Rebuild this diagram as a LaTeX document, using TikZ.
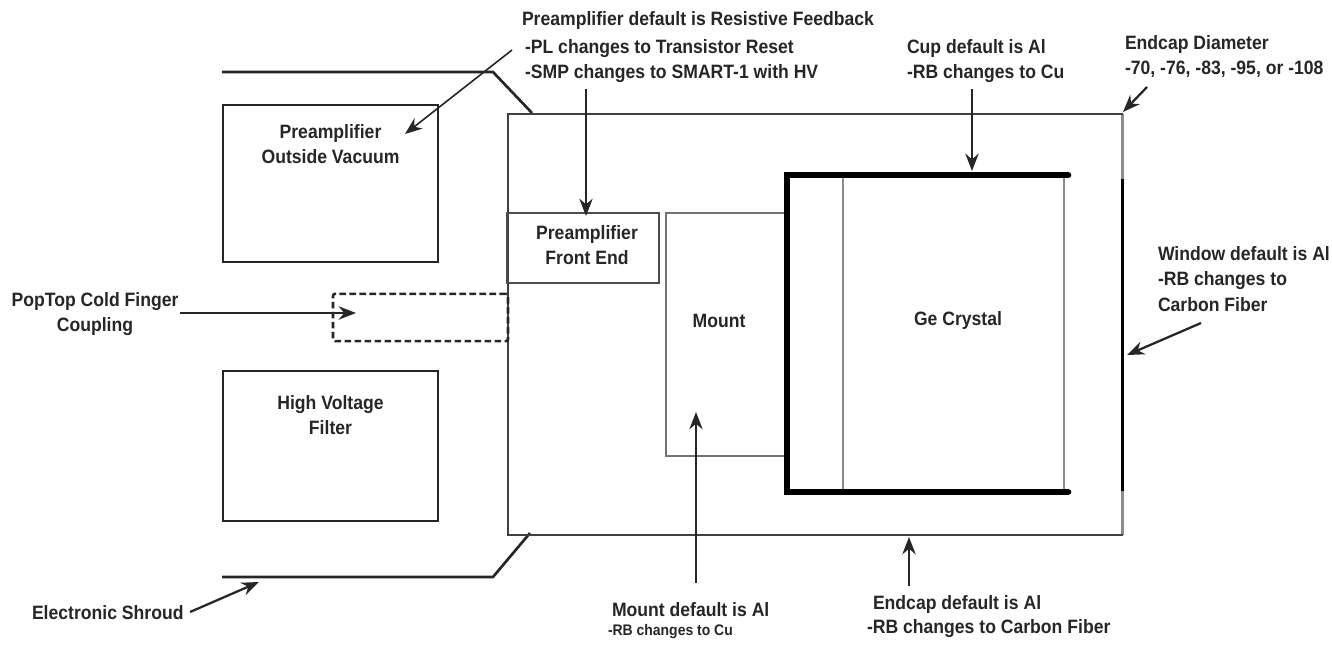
\documentclass[tikz,border=0pt]{standalone}
\usepackage{fontspec}
\setmainfont[FakeStretch=0.91,BoldFont={Liberation Sans Bold}]{Liberation Sans}
\usetikzlibrary{arrows.meta}
\tikzset{
  lab/.style={inner sep=0pt,outer sep=0pt,font=\fontsize{14.5pt}{19.2pt}\selectfont\bfseries,text=black!85,align=left},
  ctr/.style={lab,align=center},
  box/.style={draw=black!85,line width=1.9pt,rectangle,inner sep=0pt},
  thinbox/.style={draw=black!70,line width=1.5pt,rectangle,inner sep=0pt},
  arr/.style={draw=black!85,line width=1.7pt,-{Stealth[length=13pt,width=10pt]}},
  arrthin/.style={arr,line width=1.2pt},
  shroud/.style={draw=black!85,line width=2pt},
  cup/.style={draw=black,line width=5pt,line cap=round},
  gray/.style={draw=black!45,line width=2pt}
}
\begin{document}
\begin{tikzpicture}[x=0.75pt,y=-0.75pt]
\useasboundingbox (0,0) rectangle (1332,647);
% shroud
\coordinate (s1) at (222,72); \coordinate (s2) at (493,72); \coordinate (s3) at (532,113);
\coordinate (s4) at (222,577); \coordinate (s5) at (493,577); \coordinate (s6) at (530,533);
\draw[shroud] (s1) -- (s2) -- (s3);
\draw[shroud] (s4) -- (s5) -- (s6);
% boxes
\node[box,minimum width=161.25pt,minimum height=117.75pt] (pov) at (330.5,183.5) {};
\node[ctr,anchor=north] (povt) at (330.5,124) {Preamplifier\\Outside Vacuum};
\node[box,minimum width=161.25pt,minimum height=112.5pt] (hv) at (330.5,446) {};
\node[ctr,anchor=north] (hvt) at (330.5,395) {High Voltage\\Filter};
% endcap
\coordinate (ea) at (508,114); \coordinate (eb) at (1122.5,114); \coordinate (ec) at (1122.5,535); \coordinate (ed) at (508,535);
\coordinate (wa) at (1122.5,179); \coordinate (wb) at (1122.5,491);
\draw[gray] (eb) -- (wa);
\draw[gray] (wb) -- (ec);
\draw[draw=black!75,line width=1.4pt] (eb) -- (ea) -- (ed) -- (ec);
\draw[draw=black,line width=2.8pt] (wa) -- (wb);
% dashed coupling
\node[draw=black!85,line width=1.9pt,dash pattern=on 5pt off 2.5pt,rounded corners=1.5pt,minimum width=131.25pt,minimum height=35.5pt,inner sep=0pt] (pop) at (420.5,317.5) {};
% front end, mount
\node[thinbox,minimum width=114pt,minimum height=52.5pt] (fe) at (583,248) {};
\node[ctr] (fet) at (587,245) {Preamplifier\\Front End};
\coordinate (m1) at (785,213); \coordinate (m2) at (666,213); \coordinate (m3) at (666,456); \coordinate (m4) at (785,456);
\draw[draw=black!55,line width=1.5pt] (m1) -- (m2) -- (m3) -- (m4);
\node[lab] (mt) at (719,321) {Mount};
% crystal
\coordinate (g1) at (843,175); \coordinate (g2) at (843,492); \coordinate (g3) at (1064,175); \coordinate (g4) at (1064,492);
\draw[gray] (g1) -- (g2);
\draw[gray] (g3) -- (g4);
\node[lab] (gt) at (958,320) {Ge Crystal};
% cup
\coordinate (c1) at (1068,175); \coordinate (c2) at (787,175); \coordinate (c3) at (787,492); \coordinate (c4) at (1068,492);
\draw[cup] (c1) -- (c2) -- (c3) -- (c4);
% labels
\node[lab,anchor=west] (l1) at (522,20) {Preamplifier default is Resistive Feedback};
\node[lab,anchor=north west] (l2) at (525,39) {-PL changes to Transistor Reset\\-SMP changes to SMART-1 with HV};
\node[lab,anchor=north west] (l3) at (907,39) {Cup default is Al\\-RB changes to Cu};
\node[lab,anchor=north west] (l4) at (1125,35) {Endcap Diameter\\-70, -76, -83, -95, or -108};
\node[lab,anchor=north west] (l5) at (1158,246) {Window default is Al\\-RB changes to\\Carbon Fiber};
\node[ctr,anchor=north] (l6) at (95,292) {PopTop Cold Finger\\Coupling};
\node[lab,anchor=west] (l7) at (32,613) {Electronic Shroud};
\node[lab,anchor=west] (l8) at (612,610) {Mount default is Al};
\node[lab,anchor=west,font=\fontsize{11.5pt}{13pt}\selectfont\bfseries] (l9) at (608,632) {-RB changes to Cu};
\node[lab,anchor=west] (l10) at (873,604) {Endcap default is Al};
\node[lab,anchor=west] (l11) at (867,629) {-RB changes to Carbon Fiber};
% arrows
\coordinate (a1s) at (512,50); \coordinate (a1e) at (405,134);
\coordinate (a2s) at (586,89); \coordinate (a2e) at (586,216);
\coordinate (a3s) at (972,89); \coordinate (a3e) at (972,171);
\coordinate (a4s) at (1147,87); \coordinate (a4e) at (1123,112);
\coordinate (a5s) at (1201,323); \coordinate (a5e) at (1127,355);
\coordinate (a6s) at (909,586); \coordinate (a6e) at (909,537);
\coordinate (a7s) at (696,583); \coordinate (a7e) at (696,412);
\coordinate (a8s) at (180,313); \coordinate (a8e) at (356,313);
\coordinate (a9s) at (190,612); \coordinate (a9e) at (259,582);
\foreach \n in {1,2,7} \draw[arrthin] (a\n s) -- (a\n e);
\foreach \n in {3,4,5,6,8,9} \draw[arr] (a\n s) -- (a\n e);
\end{tikzpicture}
\end{document}
